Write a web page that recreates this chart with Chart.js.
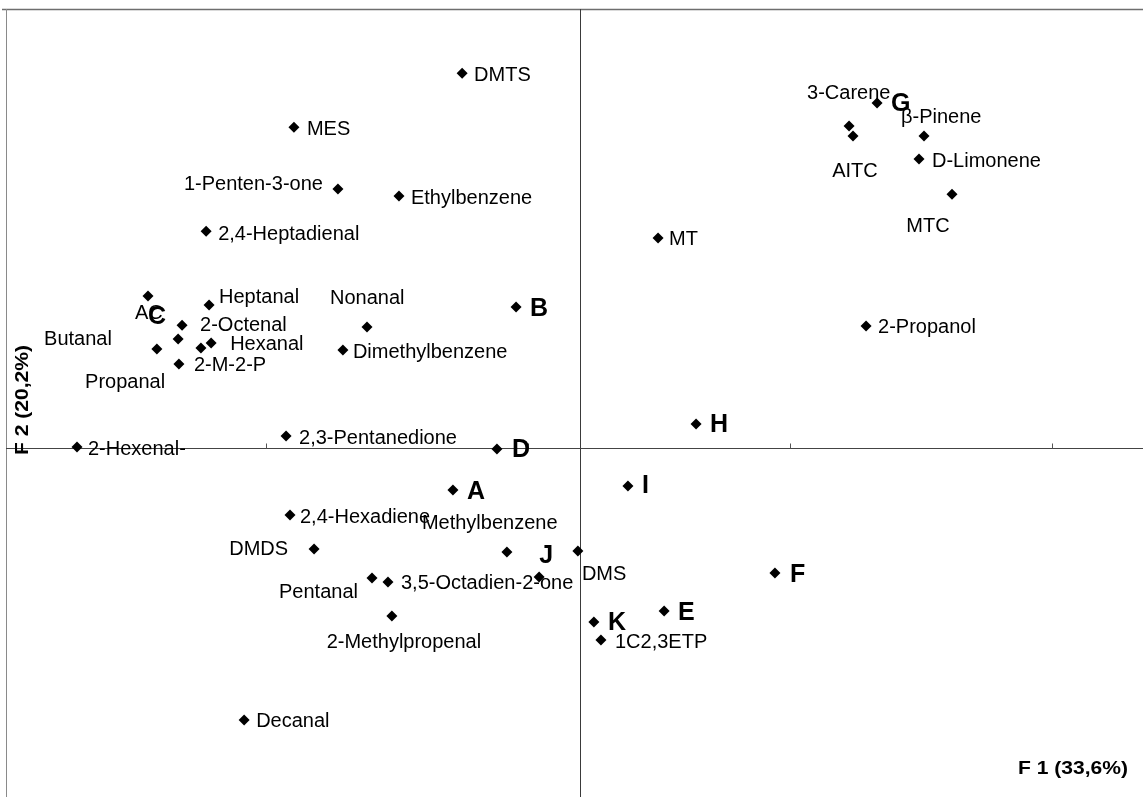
<!DOCTYPE html>
<html>
<head>
<meta charset="utf-8">
<title>PCA F1 x F2</title>
<script src="https://cdn.jsdelivr.net/npm/chart.js@4.4.1/dist/chart.umd.min.js"></script>
<style>
  html, body { margin: 0; padding: 0; background: #ffffff; overflow: hidden; }
  #wrap { width: 1143px; height: 797px; position: relative; }
  canvas { display: block; }
</style>
</head>
<body>
<div id="wrap"><canvas id="pca" width="1143" height="797"></canvas></div>
<script>
// ---- Volatile compounds (scores on F1 / F2) ----
const compoundNames = [
  'DMTS', 'MES', '1-Penten-3-one', 'Ethylbenzene', '2,4-Heptadienal', 'MT',
  '3-Carene', 'AITC', '\u03B2-Pinene', 'D-Limonene', 'MTC', '2-Propanol',
  'Nonanal', 'Dimethylbenzene', 'AC', 'Heptanal', '2-Octenal', 'Butanal',
  'Propanal', 'Hexanal', '2-M-2-P', '2,3-Pentanedione', '2-Hexenal-',
  '2,4-Hexadiene', 'DMDS', 'Methylbenzene', 'DMS', 'Pentanal',
  '3,5-Octadien-2-one', '2-Methylpropenal', '1C2,3ETP', 'Decanal'
];
const compoundF1 = [
  -0.450, -1.092, -0.924, -0.691, -1.427, 0.298,
   1.027,  1.042,  1.313,  1.294,  1.420, 1.092,
  -0.813, -0.905, -1.649, -1.416, -1.519, -1.615,
  -1.534, -1.408, -1.531, -1.122, -1.920,
  -1.107, -1.015, -0.279, -0.008, -0.794,
  -0.733, -0.718,  0.080, -1.282
];
const compoundF2 = [
   1.431,  1.225,  0.989,  0.962,  0.828,  0.802,
   1.229,  1.191,  1.191,  1.103,  0.969,  0.466,
   0.462,  0.374,  0.580,  0.546,  0.469,  0.378,
   0.416,  0.401,  0.321,  0.046,  0.004,
  -0.256, -0.385, -0.397, -0.393, -0.496,
  -0.511, -0.641, -0.733, -1.038
];

// ---- Samples (scores on F1 / F2) ----
const sampleNames = ['A', 'B', 'C', 'D', 'E', 'F', 'G', 'H', 'I', 'J', 'K'];
const sampleF1 = [-0.485, -0.244, -1.447, -0.317, 0.321, 0.744, 1.134, 0.443, 0.183, -0.156, 0.053];
const sampleF2 = [-0.160,  0.538,  0.382, -0.004, -0.622, -0.477, 1.317, 0.092, -0.145, -0.492, -0.664];

// ---- Axes ----
const f1Range = [-2.191, 2.149];
const f2Range = [-1.332, 1.676];
const f1TickValues = [-1.2, -0.2, 0.8, 1.8];
const axisTitleF1 = 'F 1 (33,6%)';
const axisTitleF2 = 'F 2 (20,2%)';

// Label placement next to each marker: [dx, dy, align] in pixels
const compoundLabelPlacement = {
  'DMTS': [12, 0, 'left'],
  'MES': [13, 0, 'left'],
  '1-Penten-3-one': [-15, -6, 'right'],
  'Ethylbenzene': [12, 0, 'left'],
  '2,4-Heptadienal': [12, 1, 'left'],
  'MT': [11, 0, 'left'],
  '3-Carene': [-42, -35, 'left'],
  'AITC': [2, 33, 'center'],
  '\u03B2-Pinene': [-23, -21, 'left'],
  'D-Limonene': [13, 0, 'left'],
  'MTC': [-24, 30, 'center'],
  '2-Propanol': [12, 0, 'left'],
  'Nonanal': [-37, -31, 'left'],
  'Dimethylbenzene': [10, 0, 'left'],
  'AC': [-13, 15, 'left'],
  'Heptanal': [10, -10, 'left'],
  '2-Octenal': [18, -2, 'left'],
  'Butanal': [-45, -12, 'right'],
  'Propanal': [-13, 41, 'right'],
  'Hexanal': [19, -1, 'left'],
  '2-M-2-P': [15, 0, 'left'],
  '2,3-Pentanedione': [13, 0, 'left'],
  '2-Hexenal-': [11, 0, 'left'],
  '2,4-Hexadiene': [10, 0, 'left'],
  'DMDS': [-26, -1, 'right'],
  'Methylbenzene': [-85, -31, 'left'],
  'DMS': [4, 21, 'left'],
  'Pentanal': [-14, 12, 'right'],
  '3,5-Octadien-2-one': [13, 0, 'left'],
  '2-Methylpropenal': [12, 25, 'center'],
  '1C2,3ETP': [14, 0, 'left'],
  'Decanal': [12, 0, 'left']
};
const sampleLabelPlacement = {
  'A': [14, 1, 'left'], 'B': [14, 1, 'left'], 'C': [-53, -32, 'left'],
  'D': [15, 0, 'left'], 'E': [14, 1, 'left'], 'F': [15, 1, 'left'],
  'G': [14, 0, 'left'], 'H': [14, 0, 'left'], 'I': [14, -1, 'left'],
  'J': [0, -22, 'left'], 'K': [14, 0, 'left']
};

const toPoints = (xs, ys) => xs.map((x, i) => ({ x: x, y: ys[i] }));

const FONT = '"Liberation Sans", Arial, Helvetica, sans-serif';
// small downward nudge so the cap height is centred on the marker
const LABEL_SHIFT = 2;
const SAMPLE_SHIFT = 1;

// Axis lines through the origin, frame edges and F1 tick marks
const axesPlugin = {
  id: 'pcaAxes',
  beforeDatasetsDraw(chart) {
    const { ctx, chartArea, scales } = chart;
    const x0 = Math.round(scales.x.getPixelForValue(0)) + 0.5;
    const y0 = Math.round(scales.y.getPixelForValue(0)) + 0.5;
    ctx.save();
    // frame (top and left)
    ctx.strokeStyle = '#6e6e6e';
    ctx.lineWidth = 1.6;
    ctx.beginPath();
    ctx.moveTo(2, chartArea.top + 0.5);
    ctx.lineTo(chartArea.right, chartArea.top + 0.5);
    ctx.stroke();
    ctx.strokeStyle = '#8a8a8a';
    ctx.lineWidth = 1;
    ctx.beginPath();
    ctx.moveTo(chartArea.left + 0.5, chartArea.top);
    ctx.lineTo(chartArea.left + 0.5, chartArea.bottom);
    ctx.stroke();
    // F2 axis (vertical)
    ctx.strokeStyle = '#3a3a3a';
    ctx.lineWidth = 1;
    ctx.beginPath();
    ctx.moveTo(x0, chartArea.top);
    ctx.lineTo(x0, chartArea.bottom);
    ctx.stroke();
    // F1 axis (horizontal)
    ctx.strokeStyle = '#444444';
    ctx.lineWidth = 1.2;
    ctx.beginPath();
    ctx.moveTo(chartArea.left, y0);
    ctx.lineTo(chartArea.right, y0);
    ctx.stroke();
    // tick marks on F1
    ctx.lineWidth = 1;
    ctx.strokeStyle = '#555555';
    f1TickValues.forEach(v => {
      const px = Math.round(scales.x.getPixelForValue(v)) + 0.5;
      ctx.beginPath();
      ctx.moveTo(px, y0);
      ctx.lineTo(px, y0 - 5);
      ctx.stroke();
    });
    ctx.restore();
  }
};

function drawText(ctx, text, x, y, align, font, scaleX) {
  ctx.save();
  ctx.translate(x, y);
  ctx.scale(scaleX, 1);
  ctx.font = font;
  ctx.textAlign = align;
  ctx.textBaseline = 'middle';
  ctx.fillText(text, 0, 0);
  ctx.restore();
}

// Point labels and axis titles
const labelsPlugin = {
  id: 'pcaLabels',
  afterDatasetsDraw(chart) {
    const { ctx, chartArea } = chart;
    ctx.save();
    ctx.fillStyle = '#000000';
    const compMeta = chart.getDatasetMeta(0);
    compoundNames.forEach((name, i) => {
      const el = compMeta.data[i];
      const p = compoundLabelPlacement[name] || [11, 0, 'left'];
      drawText(ctx, name, el.x + p[0], el.y + p[1] + LABEL_SHIFT, p[2], '20px ' + FONT, 1);
    });
    const sampMeta = chart.getDatasetMeta(1);
    sampleNames.forEach((name, i) => {
      const el = sampMeta.data[i];
      const p = sampleLabelPlacement[name] || [14, 0, 'left'];
      drawText(ctx, name, el.x + p[0], el.y + p[1] + SAMPLE_SHIFT, p[2], 'bold 25px ' + FONT, 1);
    });
    // axis titles
    drawText(ctx, axisTitleF1, chartArea.right - 15, 769, 'right', 'bold 18px ' + FONT, 1.17);
    ctx.save();
    ctx.translate(23, 400);
    ctx.rotate(-Math.PI / 2);
    ctx.scale(1.17, 1);
    ctx.font = 'bold 18px ' + FONT;
    ctx.textAlign = 'center';
    ctx.textBaseline = 'middle';
    ctx.fillText(axisTitleF2, 0, 0);
    ctx.restore();
    ctx.restore();
  }
};

const markerStyle = {
  pointStyle: 'rectRot',
  pointRadius: 5.5,
  pointHoverRadius: 5.5,
  pointBackgroundColor: '#000000',
  pointBorderColor: '#000000',
  pointBorderWidth: 0,
  showLine: false
};

new Chart(document.getElementById('pca'), {
  type: 'scatter',
  data: {
    datasets: [
      Object.assign({ label: 'Compounds', data: toPoints(compoundF1, compoundF2) }, markerStyle),
      Object.assign({ label: 'Samples', data: toPoints(sampleF1, sampleF2) }, markerStyle)
    ]
  },
  options: {
    responsive: false,
    devicePixelRatio: 1,
    animation: false,
    layout: { autoPadding: false, padding: { left: 6, top: 9, right: 0, bottom: 0 } },
    clip: false,
    plugins: { legend: { display: false }, tooltip: { enabled: false } },
    scales: {
      x: { type: 'linear', min: f1Range[0], max: f1Range[1], display: false },
      y: { type: 'linear', min: f2Range[0], max: f2Range[1], display: false }
    }
  },
  plugins: [axesPlugin, labelsPlugin]
});
</script>
</body>
</html>
